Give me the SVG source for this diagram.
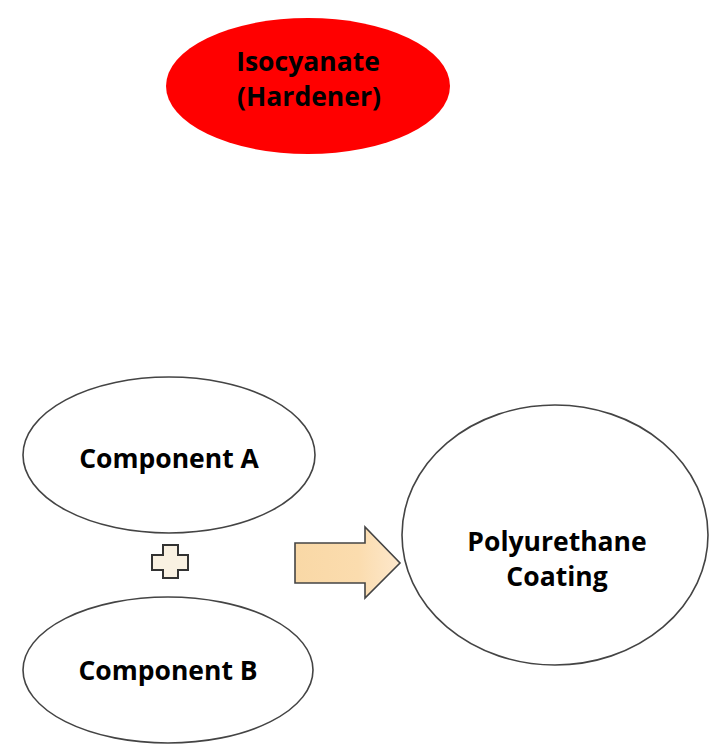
<svg xmlns="http://www.w3.org/2000/svg" width="709" height="745" viewBox="0 0 709 745">
<defs>
<style>
.lbl{font-family:"Open Sans","Liberation Sans",sans-serif;font-weight:bold;font-size:26.5px;fill:#000;text-anchor:middle}
.node{fill:#fff;stroke:#444;stroke-width:1.6}
</style>
<linearGradient id="ag" x1="0" y1="0" x2="1" y2="0">
<stop offset="0" stop-color="#f9d8a6"/>
<stop offset="0.6" stop-color="#fbdcae"/>
<stop offset="1" stop-color="#fde8cc"/>
</linearGradient>
</defs>
<rect width="709" height="745" fill="#fff"/>
<g id="isocyanate">
<ellipse cx="308" cy="86" rx="142" ry="68" fill="#ff0000"/>
<text class="lbl" x="308" y="71">Isocyanate</text>
<text class="lbl" x="309" y="106">(Hardener)</text>
</g>
<g id="componentA">
<ellipse class="node" cx="169" cy="455" rx="146" ry="78"/>
<text class="lbl" x="169" y="468">Component A</text>
</g>
<g id="componentB">
<ellipse class="node" cx="168" cy="670" rx="145" ry="73"/>
<text class="lbl" x="168" y="680">Component B</text>
</g>
<g id="polyurethane">
<ellipse class="node" cx="555" cy="535" rx="153" ry="130"/>
<text class="lbl" x="557" y="551">Polyurethane</text>
<text class="lbl" x="557" y="586">Coating</text>
</g>
<g id="connectors">
<path d="M152,555 H163 V545 H178 V555 H188 V570 H178 V578 H163 V570 H152 Z" fill="#f9f1e2" stroke="#333" stroke-width="2"/>
<path d="M295,543 H365 V527 L400,563 L365,598 V583 H295 Z" fill="url(#ag)" stroke="#444" stroke-width="1.6"/>
</g>
</svg>
